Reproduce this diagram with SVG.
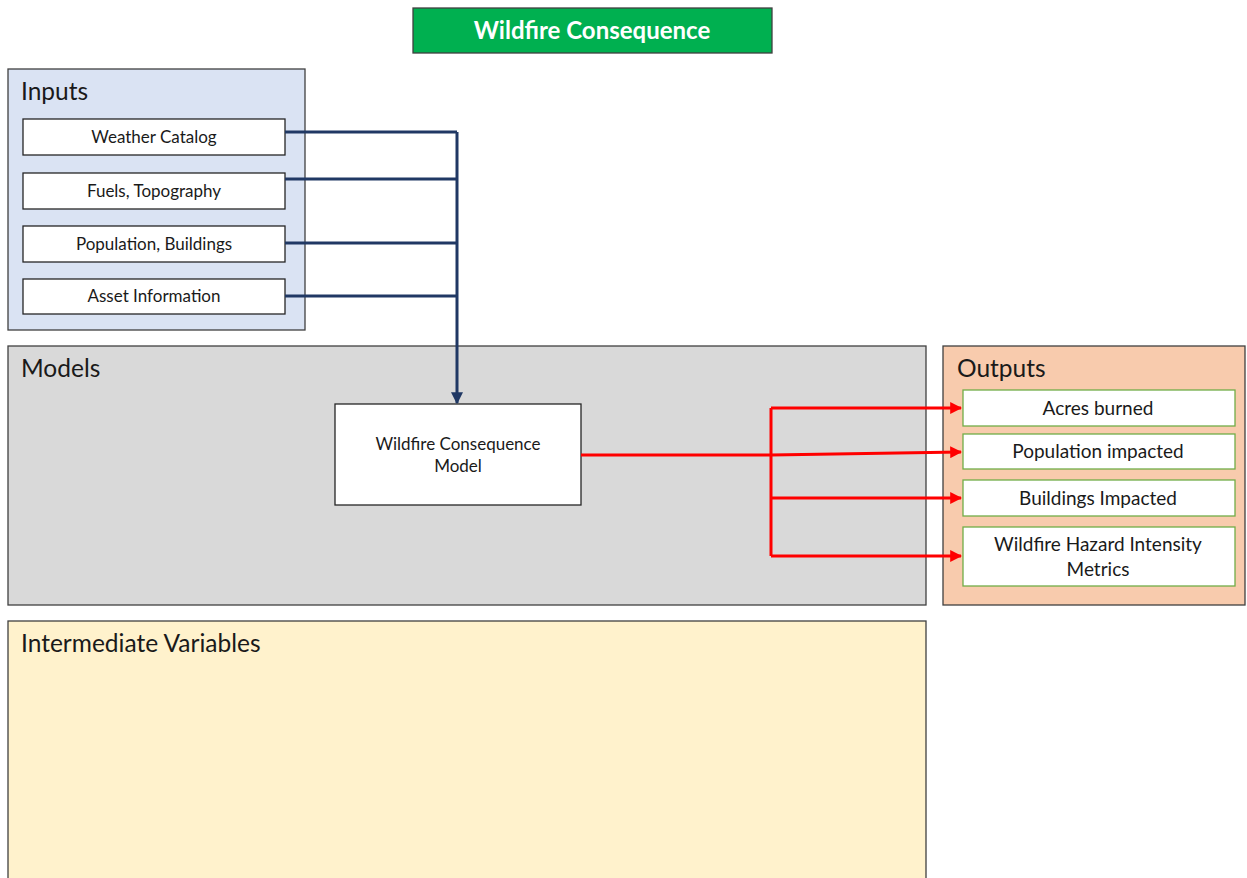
<svg xmlns="http://www.w3.org/2000/svg" width="1247" height="878" viewBox="0 0 1247 878">
<style>
text{font-family:Lato,"Open Sans","Liberation Sans",sans-serif;fill:#1a1a1a}
.panel{stroke:#404040;stroke-width:1.3}
.lbl{font-size:24.5px}
.box{fill:#fff;stroke:#262626;stroke-width:1.3}
.obox{fill:#fff;stroke:#70ad47;stroke-width:1.3}
.t{font-size:17px;text-anchor:middle}
.t2{font-size:19px;text-anchor:middle}
.blue{fill:none;stroke:#203864;stroke-width:3}
.red{fill:none;stroke:#ff0000;stroke-width:3}
</style>
<defs>
<marker id="ab" viewBox="0 0 10 10" refX="9" refY="5" markerWidth="4" markerHeight="4" orient="auto" markerUnits="strokeWidth"><path d="M0,0L10,5L0,10z" fill="#203864"/></marker>
<marker id="ar" viewBox="0 0 10 10" refX="9" refY="5" markerWidth="4" markerHeight="4" orient="auto" markerUnits="strokeWidth"><path d="M0,0L10,5L0,10z" fill="#ff0000"/></marker>
</defs>
<rect width="1247" height="878" fill="#fff"/>
<g id="title">
<rect x="413" y="8" width="359" height="45" fill="#00b050" stroke="#404040" stroke-width="1.3"/>
<text x="592" y="39" style="font-size:24px;font-weight:bold;fill:#fff;text-anchor:middle">Wildfire Consequence</text>
</g>
<g id="inputs">
<rect class="panel" x="8" y="69" width="297" height="261" fill="#dae3f3"/>
<text class="lbl" x="21" y="100">Inputs</text>
</g>
<g id="weather"><rect class="box" x="23" y="119" width="262" height="36"/><text class="t" x="154" y="143">Weather Catalog</text></g>
<g id="fuels"><rect class="box" x="23" y="173" width="262" height="36"/><text class="t" x="154" y="197">Fuels, Topography</text></g>
<g id="population"><rect class="box" x="23" y="226" width="262" height="36"/><text class="t" x="154" y="250">Population, Buildings</text></g>
<g id="asset"><rect class="box" x="23" y="279" width="262" height="35"/><text class="t" x="154" y="302">Asset Information</text></g>
<g id="models">
<rect class="panel" x="8" y="346" width="918" height="259" fill="#d9d9d9"/>
<text class="lbl" x="21" y="377">Models</text>
</g>
<g id="model"><rect class="box" x="335" y="404" width="246" height="101"/>
<text class="t" x="458" y="450">Wildfire Consequence</text><text class="t" x="458" y="472">Model</text></g>
<g id="outputs">
<rect class="panel" x="943" y="346" width="302" height="259" fill="#f8cbad"/>
<text class="lbl" x="957" y="377">Outputs</text>
</g>
<g id="acres"><rect class="obox" x="963" y="390" width="272" height="36"/><text class="t2" x="1098" y="415">Acres burned</text></g>
<g id="popimp"><rect class="obox" x="963" y="434" width="272" height="35"/><text class="t2" x="1098" y="458">Population impacted</text></g>
<g id="buildings"><rect class="obox" x="963" y="480" width="272" height="36"/><text class="t2" x="1098" y="505">Buildings Impacted</text></g>
<g id="metrics"><rect class="obox" x="963" y="527" width="272" height="59"/><text class="t2" x="1098" y="551">Wildfire Hazard Intensity</text><text class="t2" x="1098" y="576">Metrics</text></g>
<g id="intermediate">
<rect class="panel" x="8" y="621" width="918" height="262" fill="#fff2cc"/>
<text class="lbl" x="21" y="652">Intermediate Variables</text>
</g>
<g id="connectors">
<path class="blue" d="M285,132H457M285,179H457M285,243H457M285,296H457"/>
<path class="blue" d="M457,132V403" marker-end="url(#ab)"/>
<path class="red" d="M581,455H771M771,408V556"/>
<path class="red" d="M771,408H961" marker-end="url(#ar)"/>
<path class="red" d="M771,455L961,452" marker-end="url(#ar)"/>
<path class="red" d="M771,498H961" marker-end="url(#ar)"/>
<path class="red" d="M771,556H961" marker-end="url(#ar)"/>
</g>
</svg>
